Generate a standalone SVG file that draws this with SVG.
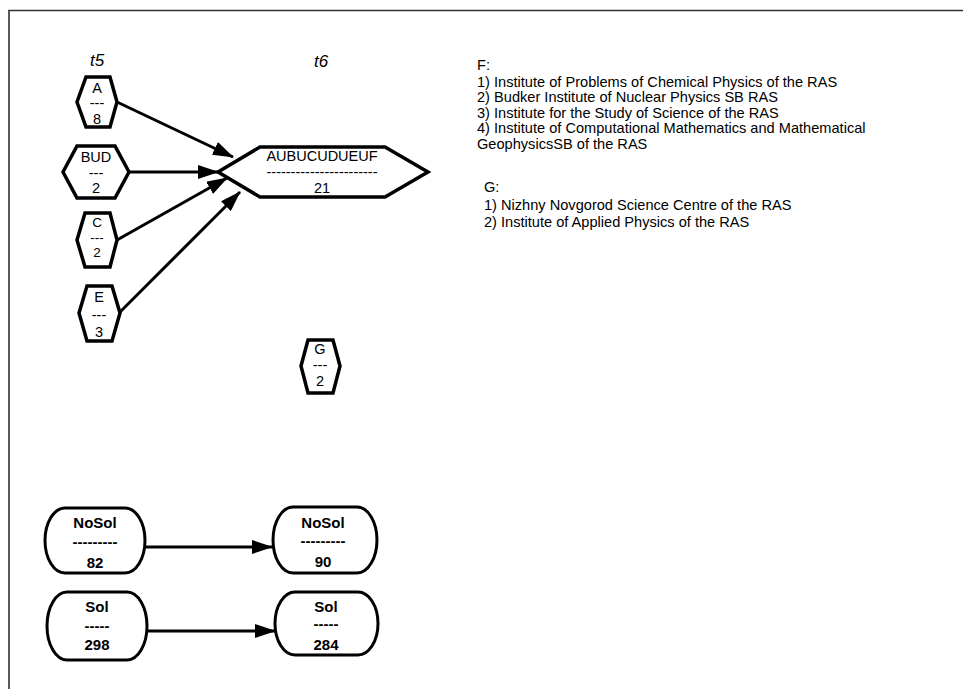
<svg xmlns="http://www.w3.org/2000/svg" width="963" height="689" viewBox="0 0 963 689">
<style>
.hex{fill:#fff;stroke:#000;stroke-width:3.5;stroke-linejoin:miter}
.rnd{fill:#fff;stroke:#000;stroke-width:3}
.t{font-family:"Liberation Sans",Arial,sans-serif;font-size:14.5px;fill:#000;text-anchor:middle}
.s{font-size:13.5px}
.b{font-family:"Liberation Sans",Arial,sans-serif;font-size:15px;font-weight:bold;fill:#000;text-anchor:middle}
.lbl{font-family:"Liberation Sans",Arial,sans-serif;font-size:17px;font-style:italic;fill:#000;text-anchor:middle}
.note{font-family:"Liberation Sans",Arial,sans-serif;font-size:14.6px;fill:#000}
.edge{fill:none;stroke:#000;stroke-width:3;marker-end:url(#ah)}
</style>
<defs>
<marker id="ah" markerUnits="userSpaceOnUse" viewBox="0 0 21 14" markerWidth="21" markerHeight="14" refX="20" refY="7" orient="auto">
<path d="M0,0 L21,7 L0,14 z" fill="#000"/>
</marker>
</defs>
<rect width="963" height="689" fill="#fff"/>
<path d="M9,689 V10.5 H963" fill="none" stroke="#333" stroke-width="1.6"/>

<text class="lbl" x="97" y="66">t5</text>
<text class="lbl" x="321" y="67">t6</text>

<g id="connectors">
<line class="edge" x1="117" y1="102" x2="233" y2="157"/>
<line class="edge" x1="129" y1="172" x2="218" y2="172"/>
<line class="edge" x1="117" y1="240" x2="227" y2="178"/>
<line class="edge" x1="120" y1="312" x2="240" y2="192"/>
<line class="edge" x1="145" y1="547" x2="272" y2="547"/>
<line class="edge" x1="148" y1="631" x2="275" y2="631"/>
</g>

<g id="nA">
<polygon class="hex" points="77,102 86,77 110,77 117,102 110,127 86,127"/>
<text class="t" x="97" y="93">A</text>
<text class="t" x="97" y="108">---</text>
<text class="t" x="97" y="124">8</text>
</g>
<g id="nBUD">
<polygon class="hex" points="63,172 77,146 115,146 129,172 115,198 77,198"/>
<text class="t" x="96" y="162">BUD</text>
<text class="t" x="96" y="178">---</text>
<text class="t" x="96" y="193">2</text>
</g>
<g id="nC">
<polygon class="hex" points="77,240 85,213 110,213 117,240 110,267 85,267"/>
<text class="t s" x="97" y="227">C</text>
<text class="t s" x="97" y="242">---</text>
<text class="t s" x="97" y="257">2</text>
</g>
<g id="nE">
<polygon class="hex" points="79,313 87,286 112,286 120,313 112,341 87,341"/>
<text class="t" x="99" y="302">E</text>
<text class="t" x="99" y="320">---</text>
<text class="t" x="99" y="337">3</text>
</g>
<g id="nF">
<polygon class="hex" points="218,172 260,147 385,147 428,172 385,197 260,197"/>
<text class="t" x="322" y="161">AUBUCUDUEUF</text>
<text class="t" x="322" y="177">-----------------------</text>
<text class="t" x="322" y="193">21</text>
</g>
<g id="nG">
<polygon class="hex" points="301,366 308,340 333,340 340,366 333,393 308,393"/>
<text class="t" x="320" y="354">G</text>
<text class="t" x="320" y="370">---</text>
<text class="t" x="320" y="386">2</text>
</g>

<g id="noteF">
<text class="note" x="477" y="70">F:</text>
<text class="note" x="477" y="87">1) Institute of Problems of Chemical Physics of the RAS</text>
<text class="note" x="477" y="102">2) Budker Institute of Nuclear Physics SB RAS</text>
<text class="note" x="477" y="118">3) Institute for the Study of Science of the RAS</text>
<text class="note" x="477" y="133">4) Institute of Computational Mathematics and Mathematical</text>
<text class="note" x="477" y="149">GeophysicsSB of the RAS</text>
</g>
<g id="noteG">
<text class="note" x="484" y="192">G:</text>
<text class="note" x="484" y="210">1) Nizhny Novgorod Science Centre of the RAS</text>
<text class="note" x="484" y="227">2) Institute of Applied Physics of the RAS</text>
</g>

<g id="nNoSolL">
<path class="rnd" d="M65,508 H125 A20,32.5 0 0 1 125,573 H65 A20,32.5 0 0 1 65,508 Z"/>
<text class="b" x="95" y="528">NoSol</text>
<text class="b" x="95" y="547">---------</text>
<text class="b" x="95" y="568">82</text>
</g>
<g id="nSolL">
<path class="rnd" d="M67,592 H127 A20,34 0 0 1 127,660 H67 A20,34 0 0 1 67,592 Z"/>
<text class="b" x="97" y="612">Sol</text>
<text class="b" x="97" y="631">-----</text>
<text class="b" x="97" y="650">298</text>
</g>
<g id="nNoSolR">
<path class="rnd" d="M293,507 H357 A20,33 0 0 1 357,573 H293 A20,33 0 0 1 293,507 Z"/>
<text class="b" x="323" y="528">NoSol</text>
<text class="b" x="323" y="546">---------</text>
<text class="b" x="323" y="567">90</text>
</g>
<g id="nSolR">
<path class="rnd" d="M295,592 H358 A20,31.5 0 0 1 358,655 H295 A20,31.5 0 0 1 295,592 Z"/>
<text class="b" x="326" y="612">Sol</text>
<text class="b" x="326" y="629">-----</text>
<text class="b" x="326" y="650">284</text>
</g>
</svg>
